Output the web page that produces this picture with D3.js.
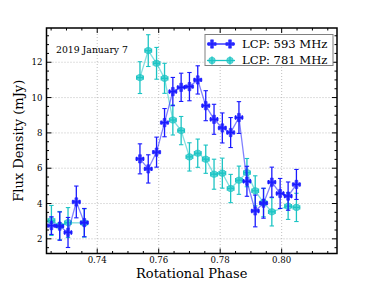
<!DOCTYPE html>
<html><head><meta charset="utf-8">
<script src="https://cdn.jsdelivr.net/npm/d3@7"></script>
<style>body{margin:0;background:#fff}svg{display:block}text{font-family:"DejaVu Serif",serif}</style>
</head><body><svg id="c" width="374" height="282"></svg>
<script>
// Data
const phase593 = [0.7251,0.7278,0.7305,0.7332,0.7358,
  0.7539,0.7566,0.7593,0.7619,0.7646,0.7673,0.7700,0.7727,0.7753,0.7780,0.7807,0.7834,0.7861,0.7887,0.7914,0.7941,0.7968,0.7995,0.8021,0.8048];
const flux593 = [2.75,2.72,2.36,4.09,2.92,
  6.53,5.96,6.91,8.58,10.34,10.58,10.62,11.0,9.54,8.77,8.28,8.02,8.87,5.26,3.58,4.02,5.21,4.57,4.42,5.08];
const err593 = [0.5,0.8,0.85,0.9,0.8,
  0.85,0.8,0.85,0.8,0.8,0.8,0.8,0.8,0.85,0.85,0.85,0.85,0.9,0.85,0.9,0.85,0.85,0.85,0.8,0.85];
const phase781 = [0.7251,0.7278,0.7305,0.7358,
  0.7539,0.7566,0.7593,0.7619,0.7646,0.7673,0.7700,0.7727,0.7753,0.7780,0.7807,0.7834,0.7861,0.7887,0.7914,0.7941,0.7968,0.8021,0.8048];
const flux781 = [3.04,2.75,2.92,2.9,
  11.13,12.66,11.94,11.09,8.73,8.13,6.64,6.85,6.51,5.66,5.72,4.85,5.32,5.75,4.72,4.05,3.53,3.85,3.78];
const err781 = [0.85,0.8,0.85,0.8,
  0.9,0.9,0.9,0.85,0.85,0.8,0.8,0.8,0.8,0.85,0.85,0.8,0.8,0.8,0.85,0.8,0.8,0.75,0.8];
const xErr = 0.0011;
const xTicks = [0.74,0.76,0.78,0.80];
const yTicks = [2,4,6,8,10,12];
const seriesNames = ["LCP: 593 MHz","LCP: 781 MHz"];
const annotation = "2019 January 7";

const svg = d3.select("#c");
const L=46.5, R=337, T=28, B=253.5;
const x = d3.scaleLinear().domain([0.7235,0.818]).range([L,R]);
const y = d3.scaleLinear().domain([1.17,13.94]).range([B,T]);

// grid
const g = svg.append("g");
xTicks.forEach(t=>g.append("line").attr("x1",x(t)).attr("x2",x(t)).attr("y1",T).attr("y2",B)
  .attr("stroke","#b0b0b0").attr("stroke-width",0.8).attr("stroke-dasharray","1,2"));
yTicks.forEach(t=>g.append("line").attr("x1",L).attr("x2",R).attr("y1",y(t)).attr("y2",y(t))
  .attr("stroke","#b0b0b0").attr("stroke-width",0.8).attr("stroke-dasharray","1,2"));

// ticks inward on all sides
const minX = d3.range(0,40).map(i=>0.72+i*0.005).filter(v=>v>=x.domain()[0]&&v<=x.domain()[1]);
const minY = d3.range(0,30).map(i=>i*0.5).filter(v=>v>=y.domain()[0]&&v<=y.domain()[1]);
const tk = svg.append("g").attr("stroke","#000").attr("stroke-width",1);
minX.forEach(v=>{
  const maj = xTicks.some(t=>Math.abs(t-v)<1e-6); const len = maj?5:2.5;
  tk.append("line").attr("x1",x(v)).attr("x2",x(v)).attr("y1",B).attr("y2",B-len);
  tk.append("line").attr("x1",x(v)).attr("x2",x(v)).attr("y1",T).attr("y2",T+len);
});
minY.forEach(v=>{
  const maj = yTicks.some(t=>Math.abs(t-v)<1e-6); const len = maj?5:2.5;
  tk.append("line").attr("y1",y(v)).attr("y2",y(v)).attr("x1",L).attr("x2",L+len);
  tk.append("line").attr("y1",y(v)).attr("y2",y(v)).attr("x1",R).attr("x2",R-len);
});
xTicks.forEach(t=>svg.append("text").attr("x",x(t)).attr("y",B+9.5).attr("text-anchor","middle")
  .attr("font-size",8.6).text(t.toFixed(2)));
yTicks.forEach(t=>svg.append("text").attr("x",L-4).attr("y",y(t)+3.1).attr("text-anchor","end")
  .attr("font-size",8.6).text(t));

svg.append("text").attr("x",(L+R)/2).attr("y",277.5).attr("text-anchor","middle").attr("font-size",13).text("Rotational Phase");
svg.append("text").attr("transform",`translate(23,${(T+B)/2}) rotate(-90)`).attr("text-anchor","middle").attr("font-size",13).text("Flux Density (mJy)");
svg.append("text").attr("x",56).attr("y",53).attr("font-size",9.3).text(annotation);

function segments(pts){
  const out=[[]];
  pts.forEach((d,i)=>{ if(i>0 && d.p-pts[i-1].p>0.01) out.push([]); out[out.length-1].push(d); });
  return out;
}
function drawSeries(px,fl,er,color,marker){
  const s = svg.append("g");
  const pts = px.map((p,i)=>({p,f:fl[i],e:er[i]}));
  segments(pts).forEach(seg=>s.append("path").datum(seg).attr("d",d3.line().x(d=>x(d.p)).y(d=>y(d.f)))
    .attr("fill","none").attr("stroke",color).attr("stroke-opacity",0.55).attr("stroke-width",1.3));
  pts.forEach(d=>{
    const cx=x(d.p), cy=y(d.f);
    s.append("line").attr("x1",cx).attr("x2",cx).attr("y1",y(d.f-d.e)).attr("y2",y(d.f+d.e)).attr("stroke",color).attr("stroke-width",1.3);
    [d.f-d.e,d.f+d.e].forEach(v=>s.append("line").attr("x1",cx-2.2).attr("x2",cx+2.2).attr("y1",y(v)).attr("y2",y(v)).attr("stroke",color).attr("stroke-width",1.1));
    s.append("line").attr("x1",x(d.p-xErr)).attr("x2",x(d.p+xErr)).attr("y1",cy).attr("y2",cy).attr("stroke",color).attr("stroke-width",1.3);
    [d.p-xErr,d.p+xErr].forEach(v=>s.append("line").attr("x1",x(v)).attr("x2",x(v)).attr("y1",cy-2.2).attr("y2",cy+2.2).attr("stroke",color).attr("stroke-width",1.1));
    drawMarker(s,cx,cy,color,marker);
  });
}
function drawMarker(s,cx,cy,color,marker){
  if(marker==="plus"){
    s.append("path").attr("d",d3.symbol(d3.symbolCross,38)()).attr("transform",`translate(${cx},${cy})`)
      .attr("fill",color).attr("fill-opacity",0.75).attr("stroke",color).attr("stroke-width",0.6);
  } else {
    s.append("circle").attr("cx",cx).attr("cy",cy).attr("r",3.3).attr("fill",color).attr("fill-opacity",0.7).attr("stroke",color).attr("stroke-width",0.6);
  }
}
const blue="#1a1aff", cyan="#1cc4c4";
drawSeries(phase781,flux781,err781,cyan,"circle");
drawSeries(phase593,flux593,err593,blue,"plus");

// frame
svg.append("rect").attr("x",L).attr("y",T).attr("width",R-L).attr("height",B-T).attr("fill","none").attr("stroke","#000").attr("stroke-width",1.5);

// legend
const lg = svg.append("g");
lg.append("rect").attr("x",205).attr("y",34.5).attr("width",128).attr("height",31).attr("fill","#fff").attr("stroke","#808080").attr("stroke-width",1);
[[blue,"plus"],[cyan,"circle"]].forEach((c,i)=>{
  const yy = 44 + i*16.5;
  lg.append("line").attr("x1",207).attr("x2",235).attr("y1",yy).attr("y2",yy).attr("stroke",c[0]).attr("stroke-width",1.3);
  [212,230].forEach(xx=>{
    lg.append("line").attr("x1",xx).attr("x2",xx).attr("y1",yy-4).attr("y2",yy+4).attr("stroke",c[0]).attr("stroke-width",1.3);
    drawMarker(lg,xx,yy,c[0],c[1]);
  });
  lg.append("text").attr("x",242).attr("y",yy+3.8).attr("font-size",11.6).text(seriesNames[i]);
});
</script></body></html>
